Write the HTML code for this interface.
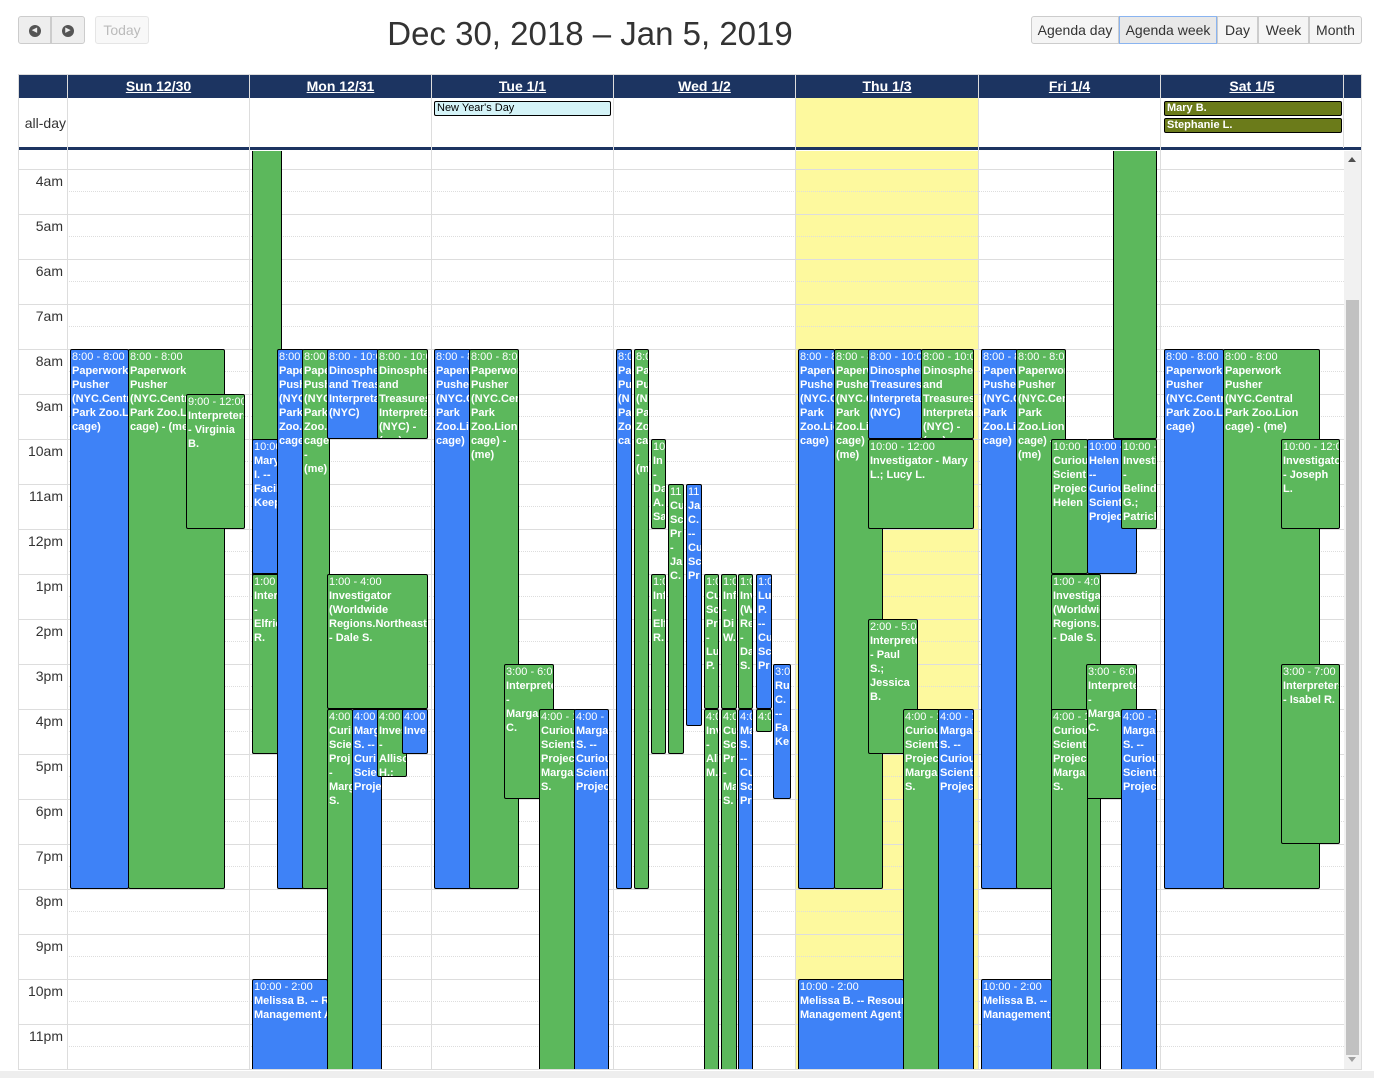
<!DOCTYPE html>
<html><head><meta charset="utf-8"><style>
*{box-sizing:border-box}
body{margin:0;width:1374px;height:1078px;background:#fff;font-family:"Liberation Sans",sans-serif;position:relative;overflow:hidden;color:#333}
.btn{position:absolute;top:16px;height:28px;border:1px solid #ccc;background:#f5f5f5;font-size:14px;line-height:26px;text-align:center;color:#333}
.ic{display:inline-block;width:12px;height:12px;border-radius:50%;background:#555;color:#eee;font-size:7px;line-height:12px;text-align:center;vertical-align:middle}
.hdr{position:absolute;top:75px;height:23px;background:#1c3461;color:#fff;font-weight:bold;font-size:14px;text-align:center;line-height:23px;border-right:1px solid #ddd}
.hdr span{text-decoration:underline}
.vl{position:absolute;width:1px;background:#ddd}
.hl{position:absolute;left:19px;width:1325px;height:1px;background:#ddd}
.dl{position:absolute;left:67px;width:1277px;height:0;border-top:1px dotted #ddd}
.lab{position:absolute;left:19px;width:44px;text-align:right;font-size:14px;color:#333}
.e{position:absolute;border:1px solid #000;border-radius:2px;color:#fff;font-size:11px;line-height:14px;overflow:hidden;padding:0 1px}
.e b{display:block;font-weight:bold;width:200px;overflow:hidden}
.e b span{display:block;white-space:nowrap}
.e i{font-style:normal;display:block;white-space:nowrap}
.b{background:#3e82f7}.g{background:#5cb85c}
</style></head><body>
<div class="btn" style="left:18px;width:33px;border-radius:3px 0 0 3px;background:#eee"><span class="ic">&#9664;</span></div>
<div class="btn" style="left:51px;width:34px;border-radius:0 3px 3px 0;background:#eee"><span class="ic">&#9654;</span></div>
<div class="btn" style="left:95px;width:54px;border-radius:3px;color:#bbb;border-color:#e5e5e5;background:#f8f8f8">Today</div>
<div style="position:absolute;left:300px;width:580px;top:15px;text-align:center;font-size:33px;color:#333">Dec 30, 2018 – Jan 5, 2019</div>
<div class="btn" style="left:1031px;width:88px;border-radius:3px 0 0 3px">Agenda day</div>
<div class="btn" style="left:1119px;width:98px;background:#e8e8e8;border-color:#8ab4f0">Agenda week</div>
<div class="btn" style="left:1217px;width:41px">Day</div>
<div class="btn" style="left:1258px;width:51px">Week</div>
<div class="btn" style="left:1309px;width:53px;border-radius:0 3px 3px 0">Month</div>

<div style="position:absolute;left:18px;top:74px;width:1344px;height:996px;border:1px solid #ddd"></div>
<div class="hdr" style="left:19px;width:49px"></div>
<div class="hdr" style="left:68px;width:182px"><span>Sun 12/30</span></div>
<div class="hdr" style="left:250px;width:182px"><span>Mon 12/31</span></div>
<div class="hdr" style="left:432px;width:182px"><span>Tue 1/1</span></div>
<div class="hdr" style="left:614px;width:182px"><span>Wed 1/2</span></div>
<div class="hdr" style="left:796px;width:183px"><span>Thu 1/3</span></div>
<div class="hdr" style="left:979px;width:182px"><span>Fri 1/4</span></div>
<div class="hdr" style="left:1161px;width:183px"><span>Sat 1/5</span></div>
<div class="hdr" style="left:1344px;width:17px;border-right:0"></div>
<div style="position:absolute;left:796px;top:98px;width:182px;height:49px;background:#fdf99e"></div>
<div style="position:absolute;left:796px;top:151px;width:182px;height:918px;background:#fdf99e"></div>
<div class="lab" style="top:115px;left:22px">all-day</div>
<div style="position:absolute;left:19px;top:147px;width:1342px;height:3px;background:#1c3461"></div>
<div style="position:absolute;left:434px;top:101px;width:177px;height:15px;background:#d4f3f7;border:1px solid #000;border-radius:2px;font-size:11px;line-height:13px;padding-left:2px;color:#000">New Year's Day</div>
<div style="position:absolute;left:1164px;top:101px;width:178px;height:15px;background:#6b7b1a;border:1px solid #000;border-radius:2px;font-size:11px;line-height:13px;padding-left:2px;color:#fff;font-weight:bold">Mary B.</div>
<div style="position:absolute;left:1164px;top:118px;width:178px;height:15px;background:#6b7b1a;border:1px solid #000;border-radius:2px;font-size:11px;line-height:13px;padding-left:2px;color:#fff;font-weight:bold">Stephanie L.</div>

<div class="hl" style="top:169px"></div><div class="hl" style="top:214px"></div><div class="hl" style="top:259px"></div><div class="hl" style="top:304px"></div><div class="hl" style="top:349px"></div><div class="hl" style="top:394px"></div><div class="hl" style="top:439px"></div><div class="hl" style="top:484px"></div><div class="hl" style="top:529px"></div><div class="hl" style="top:574px"></div><div class="hl" style="top:619px"></div><div class="hl" style="top:664px"></div><div class="hl" style="top:709px"></div><div class="hl" style="top:754px"></div><div class="hl" style="top:799px"></div><div class="hl" style="top:844px"></div><div class="hl" style="top:889px"></div><div class="hl" style="top:934px"></div><div class="hl" style="top:979px"></div><div class="hl" style="top:1024px"></div>
<div class="dl" style="top:191px"></div><div class="dl" style="top:236px"></div><div class="dl" style="top:281px"></div><div class="dl" style="top:326px"></div><div class="dl" style="top:371px"></div><div class="dl" style="top:416px"></div><div class="dl" style="top:461px"></div><div class="dl" style="top:506px"></div><div class="dl" style="top:551px"></div><div class="dl" style="top:596px"></div><div class="dl" style="top:641px"></div><div class="dl" style="top:686px"></div><div class="dl" style="top:731px"></div><div class="dl" style="top:776px"></div><div class="dl" style="top:821px"></div><div class="dl" style="top:866px"></div><div class="dl" style="top:911px"></div><div class="dl" style="top:956px"></div><div class="dl" style="top:1001px"></div><div class="dl" style="top:1046px"></div>
<div class="vl" style="left:67px;top:98px;height:971px"></div><div class="vl" style="left:249px;top:98px;height:971px"></div><div class="vl" style="left:431px;top:98px;height:971px"></div><div class="vl" style="left:613px;top:98px;height:971px"></div><div class="vl" style="left:795px;top:98px;height:971px"></div><div class="vl" style="left:978px;top:98px;height:971px"></div><div class="vl" style="left:1160px;top:98px;height:971px"></div><div class="vl" style="left:1343px;top:98px;height:50px"></div>
<div class="lab" style="top:173px">4am</div><div class="lab" style="top:218px">5am</div><div class="lab" style="top:263px">6am</div><div class="lab" style="top:308px">7am</div><div class="lab" style="top:353px">8am</div><div class="lab" style="top:398px">9am</div><div class="lab" style="top:443px">10am</div><div class="lab" style="top:488px">11am</div><div class="lab" style="top:533px">12pm</div><div class="lab" style="top:578px">1pm</div><div class="lab" style="top:623px">2pm</div><div class="lab" style="top:668px">3pm</div><div class="lab" style="top:713px">4pm</div><div class="lab" style="top:758px">5pm</div><div class="lab" style="top:803px">6pm</div><div class="lab" style="top:848px">7pm</div><div class="lab" style="top:893px">8pm</div><div class="lab" style="top:938px">9pm</div><div class="lab" style="top:983px">10pm</div><div class="lab" style="top:1028px">11pm</div>
<div style="position:absolute;left:1344px;top:151px;width:17px;height:918px;background:#f1f1f1"></div>
<div style="position:absolute;left:1346px;top:300px;width:13px;height:755px;background:#c1c1c1"></div>
<div style="position:absolute;left:1348px;top:157px;width:0;height:0;border:4px solid transparent;border-bottom:5px solid #505050;border-top:0"></div>
<div style="position:absolute;left:1348px;top:1057px;width:0;height:0;border:4px solid transparent;border-top:5px solid #a0a0a0;border-bottom:0"></div>
<div style="position:absolute;left:0;top:1071px;width:1374px;height:7px;background:#eee"></div>

<div style="position:absolute;left:0;top:151px;width:1343px;height:918px;overflow:hidden">
<div style="position:absolute;left:0;top:-151px;width:1343px;height:1100px">
<div class="e b" style="left:70px;top:349px;width:59px;height:540px"><i>8:00 - 8:00</i><b><span>Paperwork</span><span>Pusher</span><span>(NYC.Central</span><span>Park Zoo.Lion</span><span>cage)</span></b></div>
<div class="e g" style="left:128px;top:349px;width:97px;height:540px"><i>8:00 - 8:00</i><b><span>Paperwork</span><span>Pusher</span><span>(NYC.Central</span><span>Park Zoo.Lion</span><span>cage) - (me)</span></b></div>
<div class="e g" style="left:186px;top:394px;width:59px;height:135px"><i>9:00 - 12:00</i><b><span>Interpreters</span><span>- Virginia</span><span>B.</span></b></div>
<div class="e g" style="left:252px;top:140px;width:30px;height:614px"></div>
<div class="e b" style="left:252px;top:439px;width:27px;height:135px"><i>10:00</i><b><span>Mary</span><span>I. --</span><span>Facil</span><span>Keep</span></b></div>
<div class="e g" style="left:252px;top:574px;width:27px;height:180px"><i>1:00 -</i><b><span>Inter</span><span>-</span><span>Elfrie</span><span>R.</span></b></div>
<div class="e b" style="left:277px;top:349px;width:27px;height:540px"><i>8:00 -</i><b><span>Pape</span><span>Push</span><span>(NYC</span><span>Park</span><span>Zoo.</span><span>cage</span></b></div>
<div class="e g" style="left:302px;top:349px;width:28px;height:540px"><i>8:00 -</i><b><span>Pape</span><span>Push</span><span>(NYC</span><span>Park</span><span>Zoo.</span><span>cage)</span><span>-</span><span>(me)</span></b></div>
<div class="e b" style="left:327px;top:349px;width:52px;height:90px"><i>8:00 - 10:00</i><b><span>Dinosphere</span><span>and Treasures</span><span>Interpreta</span><span>(NYC)</span></b></div>
<div class="e g" style="left:377px;top:349px;width:51px;height:90px"><i>8:00 - 10:00</i><b><span>Dinosphere</span><span>and</span><span>Treasures</span><span>Interpreta</span><span>(NYC) -</span><span>(me)</span></b></div>
<div class="e g" style="left:327px;top:574px;width:101px;height:135px"><i>1:00 - 4:00</i><b><span>Investigator</span><span>(Worldwide</span><span>Regions.Northeast)</span><span>- Dale S.</span></b></div>
<div class="e g" style="left:327px;top:709px;width:26px;height:380px"><i>4:00 -</i><b><span>Curi</span><span>Scie</span><span>Proj</span><span>-</span><span>Marg</span><span>S.</span></b></div>
<div class="e b" style="left:352px;top:709px;width:30px;height:380px"><i>4:00 -</i><b><span>Marg</span><span>S. --</span><span>Curi</span><span>Scie</span><span>Proje</span></b></div>
<div class="e g" style="left:377px;top:709px;width:30px;height:68px"><i>4:00 -</i><b><span>Inves</span><span>-</span><span>Alliso</span><span>H.;</span></b></div>
<div class="e b" style="left:402px;top:709px;width:26px;height:45px"><i>4:00</i><b><span>Inve</span></b></div>
<div class="e b" style="left:252px;top:979px;width:76px;height:100px"><i>10:00 - 2:00</i><b><span>Melissa B. -- Resour</span><span>Management Agent</span></b></div>
<div class="e b" style="left:434px;top:349px;width:37px;height:540px"><i>8:00 - 8</i><b><span>Paperwork</span><span>Pusher</span><span>(NYC.C</span><span>Park</span><span>Zoo.Lion</span><span>cage)</span></b></div>
<div class="e g" style="left:469px;top:349px;width:50px;height:540px"><i>8:00 - 8:00</i><b><span>Paperwork</span><span>Pusher</span><span>(NYC.Central</span><span>Park</span><span>Zoo.Lion</span><span>cage) -</span><span>(me)</span></b></div>
<div class="e g" style="left:504px;top:664px;width:50px;height:135px"><i>3:00 - 6:00</i><b><span>Interpreters</span><span>-</span><span>Marga</span><span>C.</span></b></div>
<div class="e g" style="left:539px;top:709px;width:37px;height:380px"><i>4:00 - 1</i><b><span>Curiou</span><span>Scienti</span><span>Projec</span><span>Marga</span><span>S.</span></b></div>
<div class="e b" style="left:574px;top:709px;width:35px;height:380px"><i>4:00 - 1</i><b><span>Marga</span><span>S. --</span><span>Curiou</span><span>Scient</span><span>Projec</span></b></div>
<div class="e b" style="left:616px;top:349px;width:16px;height:540px"><i>8:0</i><b><span>Pa</span><span>Pu</span><span>(N</span><span>Pa</span><span>Zo</span><span>ca</span></b></div>
<div class="e g" style="left:634px;top:349px;width:15px;height:540px"><i>8:0</i><b><span>Pa</span><span>Pu</span><span>(N</span><span>Pa</span><span>Zo</span><span>ca</span><span>-</span><span>(m</span></b></div>
<div class="e g" style="left:651px;top:439px;width:15px;height:90px"><i>10</i><b><span>In</span><span>-</span><span>Da</span><span>A.</span><span>Sa</span></b></div>
<div class="e g" style="left:651px;top:574px;width:15px;height:180px"><i>1:0</i><b><span>Inf</span><span>-</span><span>Elf</span><span>R.</span></b></div>
<div class="e g" style="left:668px;top:484px;width:16px;height:270px"><i>11</i><b><span>Cu</span><span>Sc</span><span>Pr</span><span>-</span><span>Ja</span><span>C.</span></b></div>
<div class="e b" style="left:686px;top:484px;width:16px;height:242px"><i>11</i><b><span>Ja</span><span>C.</span><span>--</span><span>Cu</span><span>Sc</span><span>Pr</span></b></div>
<div class="e g" style="left:704px;top:574px;width:15px;height:135px"><i>1:0</i><b><span>Cu</span><span>Sc</span><span>Pr</span><span>-</span><span>Lu</span><span>P.</span></b></div>
<div class="e g" style="left:704px;top:709px;width:15px;height:380px"><i>4:0</i><b><span>Inv</span><span>-</span><span>Ali</span><span>M.</span></b></div>
<div class="e g" style="left:721px;top:574px;width:16px;height:135px"><i>1:0</i><b><span>Inf</span><span>-</span><span>Di</span><span>W.</span></b></div>
<div class="e g" style="left:721px;top:709px;width:16px;height:380px"><i>4:0</i><b><span>Cu</span><span>Sc</span><span>Pr</span><span>-</span><span>Ma</span><span>S.</span></b></div>
<div class="e g" style="left:738px;top:574px;width:15px;height:135px"><i>1:0</i><b><span>Inv</span><span>(W</span><span>Re</span><span>-</span><span>Da</span><span>S.</span></b></div>
<div class="e b" style="left:738px;top:709px;width:15px;height:380px"><i>4:0</i><b><span>Ma</span><span>S.</span><span>--</span><span>Cu</span><span>Sc</span><span>Pr</span></b></div>
<div class="e b" style="left:756px;top:574px;width:16px;height:135px"><i>1:0</i><b><span>Lu</span><span>P.</span><span>--</span><span>Cu</span><span>Sc</span><span>Pr</span></b></div>
<div class="e g" style="left:756px;top:709px;width:16px;height:23px"><i>4:0</i></div>
<div class="e b" style="left:773px;top:664px;width:18px;height:135px"><i>3:0</i><b><span>Ru</span><span>C.</span><span>--</span><span>Fa</span><span>Ke</span></b></div>
<div class="e b" style="left:798px;top:349px;width:37px;height:540px"><i>8:00 - 8</i><b><span>Paperw</span><span>Pushe</span><span>(NYC.C</span><span>Park</span><span>Zoo.Lion</span><span>cage)</span></b></div>
<div class="e g" style="left:834px;top:349px;width:49px;height:540px"><i>8:00 - 8</i><b><span>Paperw</span><span>Pushe</span><span>(NYC.C</span><span>Park</span><span>Zoo.Lion</span><span>cage) -</span><span>(me)</span></b></div>
<div class="e b" style="left:868px;top:349px;width:54px;height:90px"><i>8:00 - 10:00</i><b><span>Dinospher</span><span>Treasures</span><span>Interpretat</span><span>(NYC)</span></b></div>
<div class="e g" style="left:921px;top:349px;width:53px;height:90px"><i>8:00 - 10:00</i><b><span>Dinospher</span><span>and</span><span>Treasures</span><span>Interpretat</span><span>(NYC) -</span><span>(me)</span></b></div>
<div class="e g" style="left:868px;top:439px;width:106px;height:90px"><i>10:00 - 12:00</i><b><span>Investigator - Mary</span><span>L.; Lucy L.</span></b></div>
<div class="e g" style="left:868px;top:619px;width:50px;height:135px"><i>2:00 - 5:00</i><b><span>Interpreters</span><span>- Paul</span><span>S.;</span><span>Jessica</span><span>B.</span></b></div>
<div class="e g" style="left:903px;top:709px;width:37px;height:380px"><i>4:00 - 1</i><b><span>Curiou</span><span>Scienti</span><span>Projec</span><span>Marga</span><span>S.</span></b></div>
<div class="e b" style="left:938px;top:709px;width:36px;height:380px"><i>4:00 - 1</i><b><span>Marga</span><span>S. --</span><span>Curiou</span><span>Scient</span><span>Projec</span></b></div>
<div class="e b" style="left:798px;top:979px;width:106px;height:100px"><i>10:00 - 2:00</i><b><span>Melissa B. -- Resour</span><span>Management Agent</span></b></div>
<div class="e b" style="left:981px;top:349px;width:37px;height:540px"><i>8:00 - 8</i><b><span>Paperw</span><span>Pushe</span><span>(NYC.C</span><span>Park</span><span>Zoo.Lion</span><span>cage)</span></b></div>
<div class="e g" style="left:1016px;top:349px;width:50px;height:540px"><i>8:00 - 8:00</i><b><span>Paperwork</span><span>Pusher</span><span>(NYC.Central</span><span>Park</span><span>Zoo.Lion</span><span>cage) -</span><span>(me)</span></b></div>
<div class="e g" style="left:1051px;top:439px;width:37px;height:135px"><i>10:00 - 1</i><b><span>Curiou</span><span>Scient</span><span>Projec</span><span>Helen</span></b></div>
<div class="e b" style="left:1087px;top:439px;width:50px;height:135px"><i>10:00 - 1</i><b><span>Helen</span><span>--</span><span>Curiou</span><span>Scient</span><span>Projec</span></b></div>
<div class="e g" style="left:1113px;top:140px;width:44px;height:299px"></div>
<div class="e g" style="left:1121px;top:439px;width:36px;height:90px"><i>10:00 -</i><b><span>Investi</span><span>-</span><span>Belind</span><span>G.;</span><span>Patrick</span></b></div>
<div class="e g" style="left:1051px;top:574px;width:50px;height:515px"><i>1:00 - 4:00</i><b><span>Investigator</span><span>(Worldwide</span><span>Regions.</span><span>- Dale S.</span></b></div>
<div class="e g" style="left:1086px;top:664px;width:51px;height:135px"><i>3:00 - 6:00</i><b><span>Interpreters</span><span>-</span><span>Marga</span><span>C.</span></b></div>
<div class="e g" style="left:1051px;top:709px;width:37px;height:380px"><i>4:00 - 1</i><b><span>Curiou</span><span>Scient</span><span>Projec</span><span>Marga</span><span>S.</span></b></div>
<div class="e b" style="left:1121px;top:709px;width:36px;height:380px"><i>4:00 - 1</i><b><span>Marga</span><span>S. --</span><span>Curiou</span><span>Scient</span><span>Projec</span></b></div>
<div class="e b" style="left:981px;top:979px;width:71px;height:100px"><i>10:00 - 2:00</i><b><span>Melissa B. -- Resour</span><span>Management Agent</span></b></div>
<div class="e b" style="left:1164px;top:349px;width:60px;height:540px"><i>8:00 - 8:00</i><b><span>Paperwork</span><span>Pusher</span><span>(NYC.Central</span><span>Park Zoo.Lion</span><span>cage)</span></b></div>
<div class="e g" style="left:1223px;top:349px;width:97px;height:540px"><i>8:00 - 8:00</i><b><span>Paperwork</span><span>Pusher</span><span>(NYC.Central</span><span>Park Zoo.Lion</span><span>cage) - (me)</span></b></div>
<div class="e g" style="left:1281px;top:439px;width:59px;height:90px"><i>10:00 - 12:00</i><b><span>Investigator</span><span>- Joseph</span><span>L.</span></b></div>
<div class="e g" style="left:1281px;top:664px;width:59px;height:180px"><i>3:00 - 7:00</i><b><span>Interpreters</span><span>- Isabel R.</span></b></div>
</div></div>
</body></html>
